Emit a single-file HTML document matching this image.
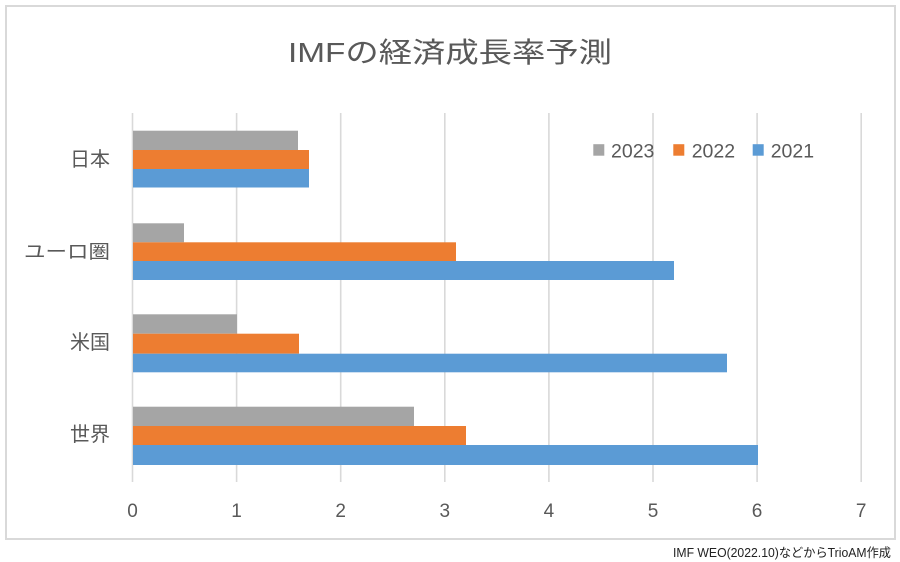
<!DOCTYPE html>
<html>
<head>
<meta charset="utf-8">
<style>
html,body{margin:0;padding:0;background:#fff;}
svg{display:block;}
text{font-family:"Liberation Sans","Noto Sans CJK JP",sans-serif;fill:#595959;}
</style>
</head>
<body>
<svg width="900" height="562" viewBox="0 0 900 562" xmlns="http://www.w3.org/2000/svg">
  <rect x="0" y="0" width="900" height="562" fill="#fff"/>
  <rect x="6" y="6" width="889" height="533" fill="#fff" stroke="#d9d9d9" stroke-width="2"/>

  <!-- title -->
  <text x="288" y="62" font-size="28" textLength="324" lengthAdjust="spacingAndGlyphs">IMFの経済成長率予測</text>

  <!-- gridlines -->
  <g stroke="#d9d9d9" stroke-width="1.6">
    <line x1="132.5" y1="113" x2="132.5" y2="482"/>
    <line x1="236.6" y1="113" x2="236.6" y2="482"/>
    <line x1="340.7" y1="113" x2="340.7" y2="482"/>
    <line x1="444.8" y1="113" x2="444.8" y2="482"/>
    <line x1="548.9" y1="113" x2="548.9" y2="482"/>
    <line x1="653" y1="113" x2="653" y2="482"/>
    <line x1="757.1" y1="113" x2="757.1" y2="482"/>
    <line x1="861.2" y1="113" x2="861.2" y2="482"/>
  </g>

  <!-- Japan -->
  <rect x="133" y="130.7" width="165" height="19.3" fill="#a5a5a5"/>
  <rect x="133" y="150" width="176" height="19" fill="#ed7d31"/>
  <rect x="133" y="169" width="176" height="18.5" fill="#5b9bd5"/>
  <!-- Euro -->
  <rect x="133" y="223.3" width="51" height="19" fill="#a5a5a5"/>
  <rect x="133" y="242.3" width="323" height="18.7" fill="#ed7d31"/>
  <rect x="133" y="261" width="541" height="19" fill="#5b9bd5"/>
  <!-- US -->
  <rect x="133" y="314.3" width="104" height="19.4" fill="#a5a5a5"/>
  <rect x="133" y="333.7" width="166" height="20" fill="#ed7d31"/>
  <rect x="133" y="353.7" width="594" height="18.6" fill="#5b9bd5"/>
  <!-- World -->
  <rect x="133" y="406.7" width="281" height="19.3" fill="#a5a5a5"/>
  <rect x="133" y="426" width="333" height="19" fill="#ed7d31"/>
  <rect x="133" y="445" width="625" height="20" fill="#5b9bd5"/>

  <!-- category labels -->
  <g font-size="20" text-anchor="end">
    <text x="110" y="166">日本</text>
    <text x="110" y="258" font-size="19" textLength="86" lengthAdjust="spacingAndGlyphs">ユーロ圏</text>
    <text x="110" y="349">米国</text>
    <text x="110" y="441">世界</text>
  </g>

  <!-- axis labels -->
  <g font-size="19" text-anchor="middle">
    <text x="132.5" y="517">0</text>
    <text x="236.6" y="517">1</text>
    <text x="340.7" y="517">2</text>
    <text x="444.8" y="517">3</text>
    <text x="548.9" y="517">4</text>
    <text x="653" y="517">5</text>
    <text x="757.1" y="517">6</text>
    <text x="861.2" y="517">7</text>
  </g>

  <!-- legend -->
  <rect x="593.3" y="144.2" width="11" height="11.5" fill="#a5a5a5"/>
  <text x="611" y="157.3" font-size="19.5">2023</text>
  <rect x="673.3" y="144.2" width="11" height="11.5" fill="#ed7d31"/>
  <text x="691.7" y="157.3" font-size="19.5">2022</text>
  <rect x="752.7" y="144.2" width="11" height="11.5" fill="#5b9bd5"/>
  <text x="770.7" y="157.3" font-size="19.5">2021</text>

  <!-- footer -->
  <text x="673" y="557" font-size="12.5" textLength="218" lengthAdjust="spacingAndGlyphs" style="fill:#222">IMF WEO(2022.10)などからTrioAM作成</text>
</svg>
</body>
</html>
